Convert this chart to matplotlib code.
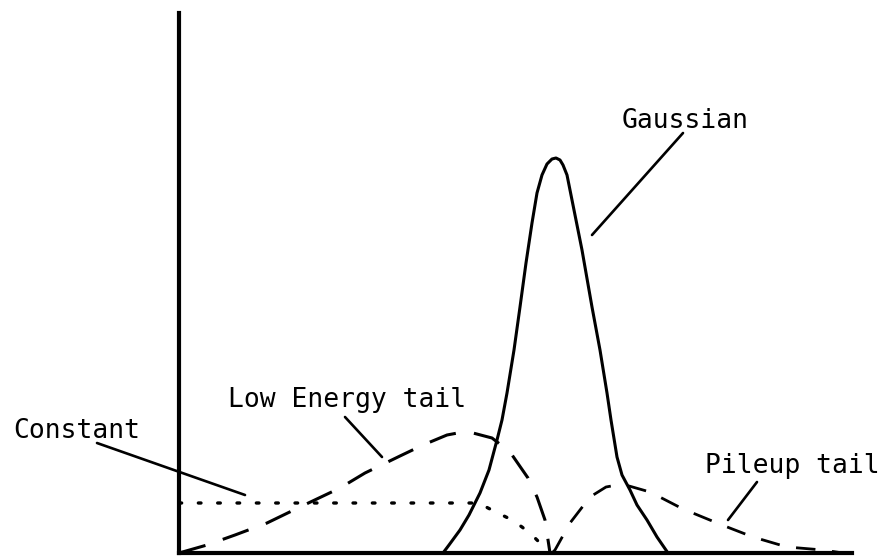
import matplotlib
matplotlib.use("Agg")
import matplotlib.pyplot as plt

# spectrum components, channel (x) vs counts (y), arbitrary units
gauss_x = [264, 270, 281, 290, 301, 310, 318, 323, 328, 335, 341, 347, 353, 358,
           363, 368, 373, 377, 381, 384, 388, 391, 397, 403, 413, 421, 428, 432,
           438, 443, 451, 458, 468, 478, 489]
gauss_y = [0, 8, 23, 38, 60, 83, 113, 133, 160, 203, 246, 290, 330, 360,
           378, 389, 394, 395, 393, 388, 378, 363, 333, 303, 246, 203, 160, 133,
           96, 78, 63, 48, 33, 16, 0]

low_x = [0, 28, 56, 88, 121, 161, 186, 221, 244, 268, 284, 294, 313, 331, 349, 358, 366, 371]
low_y = [0, 8, 18, 30, 46, 65, 80, 97, 108, 118, 121, 120, 115, 101, 75, 56, 33, 0]

const_x = [0, 300, 309, 323, 333, 343, 353, 361, 368]
const_y = [50, 50, 45, 38, 33, 26, 18, 10, 1]

pile_x = [373, 376, 391, 411, 427, 438, 450, 471, 504, 543, 574, 608, 644, 664]
pile_y = [0, 3, 30, 56, 66, 68, 67, 61, 44, 28, 16, 6, 3, 0]

# label text, text anchor, leader line (from, to)
labels = [
    ("Gaussian", (443, 425), (413, 318), (504, 420)),
    ("Low Energy tail", (49, 146), (203, 96), (166, 136)),
    ("Constant", (-166, 115), (66, 58), (-82, 110)),
    ("Pileup tail", (526, 80), (549, 33), (578, 71)),
]

fig = plt.figure(figsize=(8.85, 5.57), dpi=100)
ax = fig.add_axes([179 / 885, 4 / 557, 673 / 885, 540 / 557])

ax.plot(gauss_x, gauss_y, color="black", lw=2.2, clip_on=False,
        solid_capstyle="round", solid_joinstyle="round")
ax.plot(low_x, low_y, color="black", lw=2.2, dashes=(9, 6), clip_on=False)
ax.plot(const_x, const_y, color="black", lw=2.4, dashes=(0.8, 5.0),
        dash_capstyle="round", clip_on=False)
ax.plot(pile_x, pile_y, color="black", lw=2.0, dashes=(7, 6), clip_on=False)

for text, pos, tip, start in labels:
    ax.text(pos[0], pos[1], text, fontsize=19, family="DejaVu Sans Mono",
            ha="left", va="baseline")
    ax.annotate("", xy=tip, xytext=start, annotation_clip=False,
                arrowprops=dict(arrowstyle="-", color="black", lw=1.9,
                                shrinkA=0, shrinkB=0))

ax.set_xlim(0, 673)
ax.set_ylim(0, 540)
ax.spines["top"].set_visible(False)
ax.spines["right"].set_visible(False)
ax.spines["left"].set_linewidth(3)
ax.spines["bottom"].set_linewidth(3)
ax.set_xticks([])
ax.set_yticks([])
ax.patch.set_alpha(0)

fig.savefig("out.png", dpi=100)
